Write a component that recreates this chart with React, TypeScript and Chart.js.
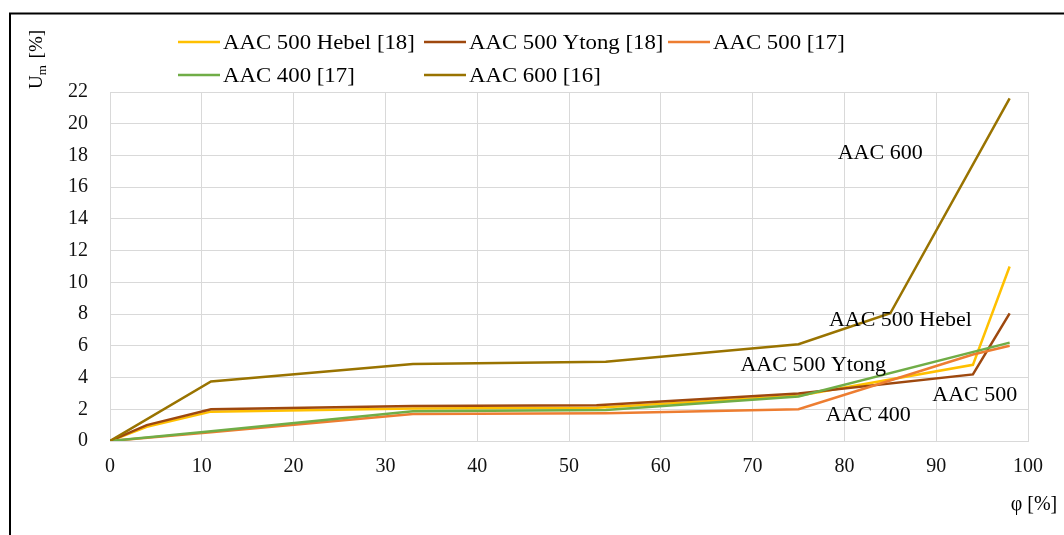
import React, { useEffect, useRef } from "react";
import { Chart, registerables } from "chart.js";

Chart.register(...registerables);

// ---- data ----
const seriesNames = ["AAC 500 Hebel [18]", "AAC 500 Ytong [18]", "AAC 500 [17]", "AAC 400 [17]", "AAC 600 [16]"];
const seriesColors = ["#FFC000", "#9E480E", "#ED7D31", "#70AD47", "#997300"];

const hebelX = [0, 4, 11, 33, 53, 75, 94, 98];
const hebelY = [0, 0.9, 1.85, 2.05, 2.1, 2.85, 4.8, 11.0];

const ytongX = [0, 4, 11, 33, 53, 75, 94, 98];
const ytongY = [0, 1.0, 2.0, 2.2, 2.25, 3.0, 4.2, 8.05];

const aac500X = [0, 11, 33, 54, 75, 94, 98];
const aac500Y = [0, 0.55, 1.7, 1.75, 2.0, 5.45, 6.0];

const aac400X = [0, 11, 33, 54, 75, 98];
const aac400Y = [0, 0.62, 1.87, 1.95, 2.8, 6.2];

const aac600X = [0, 11, 33, 54, 75, 85, 98];
const aac600Y = [0, 3.75, 4.86, 5.0, 6.1, 8.05, 21.6];

const xTickMin = 0;
const xTickMax = 100;
const xTickStep = 10;
const yTickMin = 0;
const yTickMax = 22;
const yTickStep = 2;

const annotationTexts = ["AAC 600", "AAC 500 Hebel", "AAC 500 Ytong", "AAC 500", "AAC 400"];
const annotationX = [83.9, 86.1, 76.6, 94.2, 82.6];
const annotationY = [18.1, 7.55, 4.72, 2.85, 1.6];

const xTitle = "φ [%]";
const yTitleMain = "U";
const yTitleSub = "m";
const yTitleRest = " [%]";

const SERIF = '"Liberation Serif", "Times New Roman", serif';

function pts(xs: number[], ys: number[]) {
  return xs.map((x, i) => ({ x, y: ys[i] }));
}

const decorPlugin = {
  id: "decor",
  beforeDraw(chart: any) {
    const ctx = chart.ctx as CanvasRenderingContext2D;
    ctx.save();
    ctx.fillStyle = "#ffffff";
    ctx.fillRect(0, 0, chart.width, chart.height);
    ctx.restore();
  },
  afterDraw(chart: any) {
    const ctx = chart.ctx as CanvasRenderingContext2D;
    const xs = chart.scales.x;
    const ys = chart.scales.y;
    ctx.save();

    // frame
    ctx.strokeStyle = "#000000";
    ctx.lineWidth = 2;
    ctx.beginPath();
    ctx.moveTo(10, chart.height);
    ctx.lineTo(10, 13.5);
    ctx.lineTo(chart.width, 13.5);
    ctx.stroke();

    // legend
    const legendPos = [
      [178, 42],
      [424, 42],
      [668, 42],
      [178, 75],
      [424, 75],
    ];
    ctx.font = `20px ${SERIF}`;
    ctx.textBaseline = "middle";
    ctx.textAlign = "left";
    seriesNames.forEach((name, i) => {
      const [lx, ly] = legendPos[i];
      ctx.strokeStyle = seriesColors[i];
      ctx.lineWidth = 2.5;
      ctx.beginPath();
      ctx.moveTo(lx, ly);
      ctx.lineTo(lx + 42, ly);
      ctx.stroke();
      ctx.fillStyle = "#000000";
      ctx.save();
      ctx.translate(lx + 45, ly + 2);
      ctx.scale(1.14, 1);
      ctx.fillText(name, 0, 0);
      ctx.restore();
    });

    // annotations
    ctx.textAlign = "center";
    ctx.textBaseline = "middle";
    annotationTexts.forEach((t, i) => {
      const px = xs.getPixelForValue(annotationX[i]);
      const py = ys.getPixelForValue(annotationY[i]);
      ctx.save();
      ctx.translate(px, py);
      ctx.scale(1.1, 1);
      ctx.fillStyle = "#000000";
      ctx.fillText(t, 0, 0);
      ctx.restore();
    });

    // x title
    ctx.font = `20px ${SERIF}`;
    ctx.fillStyle = "#000000";
    ctx.textAlign = "center";
    ctx.fillText(xTitle, 1034, 505);

    // y title (rotated)
    ctx.save();
    ctx.translate(42, 89);
    ctx.rotate(-Math.PI / 2);
    ctx.textAlign = "left";
    ctx.textBaseline = "alphabetic";
    ctx.font = `19px ${SERIF}`;
    ctx.fillText(yTitleMain, 0, 0);
    let w = ctx.measureText(yTitleMain).width;
    ctx.font = `13px ${SERIF}`;
    ctx.fillText(yTitleSub, w, 4);
    w += ctx.measureText(yTitleSub).width;
    ctx.font = `19px ${SERIF}`;
    ctx.fillText(yTitleRest, w + 2, 0);
    ctx.restore();

    ctx.restore();
  },
};

export default function App() {
  const ref = useRef<HTMLCanvasElement | null>(null);

  useEffect(() => {
    if (!ref.current) return;
    const allX = [hebelX, ytongX, aac500X, aac400X, aac600X];
    const allY = [hebelY, ytongY, aac500Y, aac400Y, aac600Y];
    const datasets = seriesNames.map((name, i) => ({
      label: name,
      data: pts(allX[i], allY[i]),
      borderColor: seriesColors[i],
      backgroundColor: seriesColors[i],
      borderWidth: 2.5,
      pointRadius: 0,
      pointHoverRadius: 0,
      tension: 0,
      fill: false,
      order: seriesNames.length - i,
    }));

    const chart = new Chart(ref.current, {
      type: "line",
      data: { datasets },
      plugins: [decorPlugin],
      options: {
        animation: false,
        responsive: false,
        maintainAspectRatio: false,
        layout: { padding: { left: 0, top: 92, right: 36, bottom: 0 } },
        plugins: {
          legend: { display: false },
          tooltip: { enabled: false },
          title: { display: false },
        },
        scales: {
          x: {
            type: "linear",
            min: xTickMin,
            max: xTickMax,
            ticks: {
              stepSize: xTickStep,
              color: "#111111",
              font: { family: SERIF, size: 20 },
              padding: 14,
              maxRotation: 0,
            },
            grid: { color: "#d9d9d9", lineWidth: 1, drawTicks: false },
            border: { color: "#d9d9d9", width: 1 },
            afterFit(scale: any) {
              scale.height = 94;
            },
          },
          y: {
            type: "linear",
            min: yTickMin,
            max: yTickMax,
            ticks: {
              stepSize: yTickStep,
              color: "#111111",
              font: { family: SERIF, size: 20 },
              padding: 22,
            },
            grid: { color: "#d9d9d9", lineWidth: 1, drawTicks: false },
            border: { color: "#d9d9d9", width: 1 },
            afterFit(scale: any) {
              scale.width = 110;
            },
          },
        },
      } as any,
    });
    return () => chart.destroy();
  }, []);

  return (
    <div style={{ position: "absolute", left: 0, top: 0, width: 1064, height: 535, background: "#fff" }}>
      <canvas ref={ref} width={1064} height={535} style={{ display: "block" }} />
    </div>
  );
}
